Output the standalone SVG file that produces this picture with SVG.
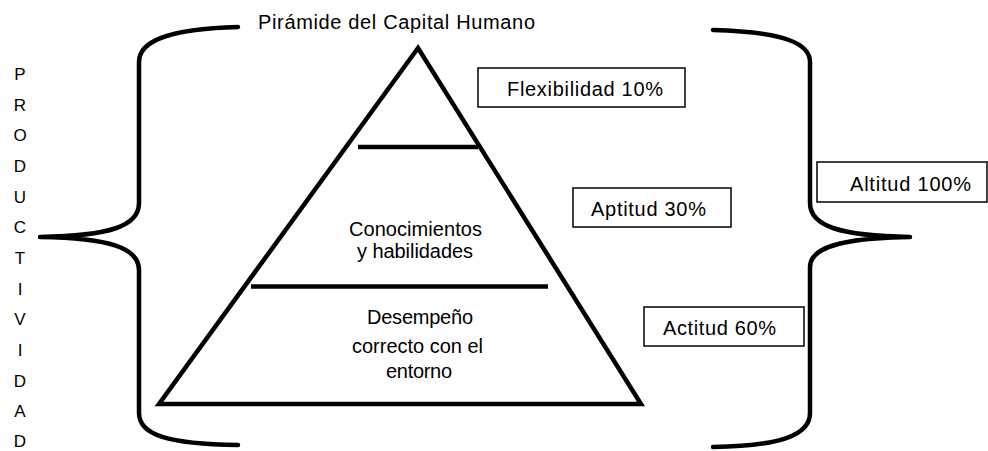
<svg xmlns="http://www.w3.org/2000/svg" width="988" height="451" viewBox="0 0 988 451">
<style>
.t{font-family:"Liberation Sans",Arial,sans-serif;font-size:20px;fill:#000}
.v{font-family:"Liberation Sans",Arial,sans-serif;font-size:17px;fill:#000;text-anchor:middle}
.br{fill:none;stroke:#000;stroke-width:4.5;stroke-linecap:round;stroke-linejoin:round}
.ln{fill:none;stroke:#000;stroke-width:4.5}
.box{fill:#fff;stroke:#000;stroke-width:1.5}
</style>
<rect width="988" height="451" fill="#fff"/>
<g id="title"><text class="t" x="258" y="29" textLength="277" lengthAdjust="spacing">Pirámide del Capital Humano</text></g>
<g id="productividad">
<text class="v" x="20" y="80">P</text>
<text class="v" x="20" y="110.7">R</text>
<text class="v" x="20" y="141.3">O</text>
<text class="v" x="20" y="172">D</text>
<text class="v" x="20" y="202.7">U</text>
<text class="v" x="20" y="233.3">C</text>
<text class="v" x="20" y="264">T</text>
<text class="v" x="20" y="294.7">I</text>
<text class="v" x="20" y="325.3">V</text>
<text class="v" x="20" y="356">I</text>
<text class="v" x="20" y="386.7">D</text>
<text class="v" x="20" y="417.3">A</text>
<text class="v" x="20" y="447">D</text>
</g>
<g id="brace-left"><path class="br" d="M238,27 C165,29 139,42 139,62 L139,203 C139,226 110,236 40,237 C110,238 139,248 139,270 L139,413 C139,435 168,444 238,445"/></g>
<g id="brace-right"><path class="br" d="M713,30 C786,32 810,44 810,62 L810,203 C810,226 840,236 910,237 C840,238 810,248 810,267 L810,413 C810,435 781,446 713,447"/></g>
<g id="pyramid">
<polygon class="ln" points="418,48 159,404 641,404"/>
<line class="ln" x1="358" y1="147" x2="478" y2="147"/>
<line class="ln" x1="251" y1="286.5" x2="548" y2="286.5"/>
<text class="t" x="349" y="236" textLength="133" lengthAdjust="spacing">Conocimientos</text>
<text class="t" x="357" y="258" textLength="116" lengthAdjust="spacing">y habilidades</text>
<text class="t" x="367" y="324" textLength="106" lengthAdjust="spacing">Desempeño</text>
<text class="t" x="352" y="353" textLength="131" lengthAdjust="spacing">correcto con el</text>
<text class="t" x="386" y="378" textLength="66" lengthAdjust="spacing">entorno</text>
</g>
<g id="flexibilidad"><rect class="box" x="478" y="68" width="207" height="39"/><text class="t" x="507" y="96" textLength="156" lengthAdjust="spacing">Flexibilidad 10%</text></g>
<g id="aptitud"><rect class="box" x="573" y="188" width="158" height="39"/><text class="t" x="591" y="216" textLength="115" lengthAdjust="spacing">Aptitud 30%</text></g>
<g id="actitud"><rect class="box" x="644" y="307" width="160" height="39"/><text class="t" x="663" y="335" textLength="113" lengthAdjust="spacing">Actitud 60%</text></g>
<g id="altitud"><rect class="box" x="817" y="162" width="170" height="40"/><text class="t" x="850" y="191" textLength="121" lengthAdjust="spacing">Altitud 100%</text></g>
</svg>
